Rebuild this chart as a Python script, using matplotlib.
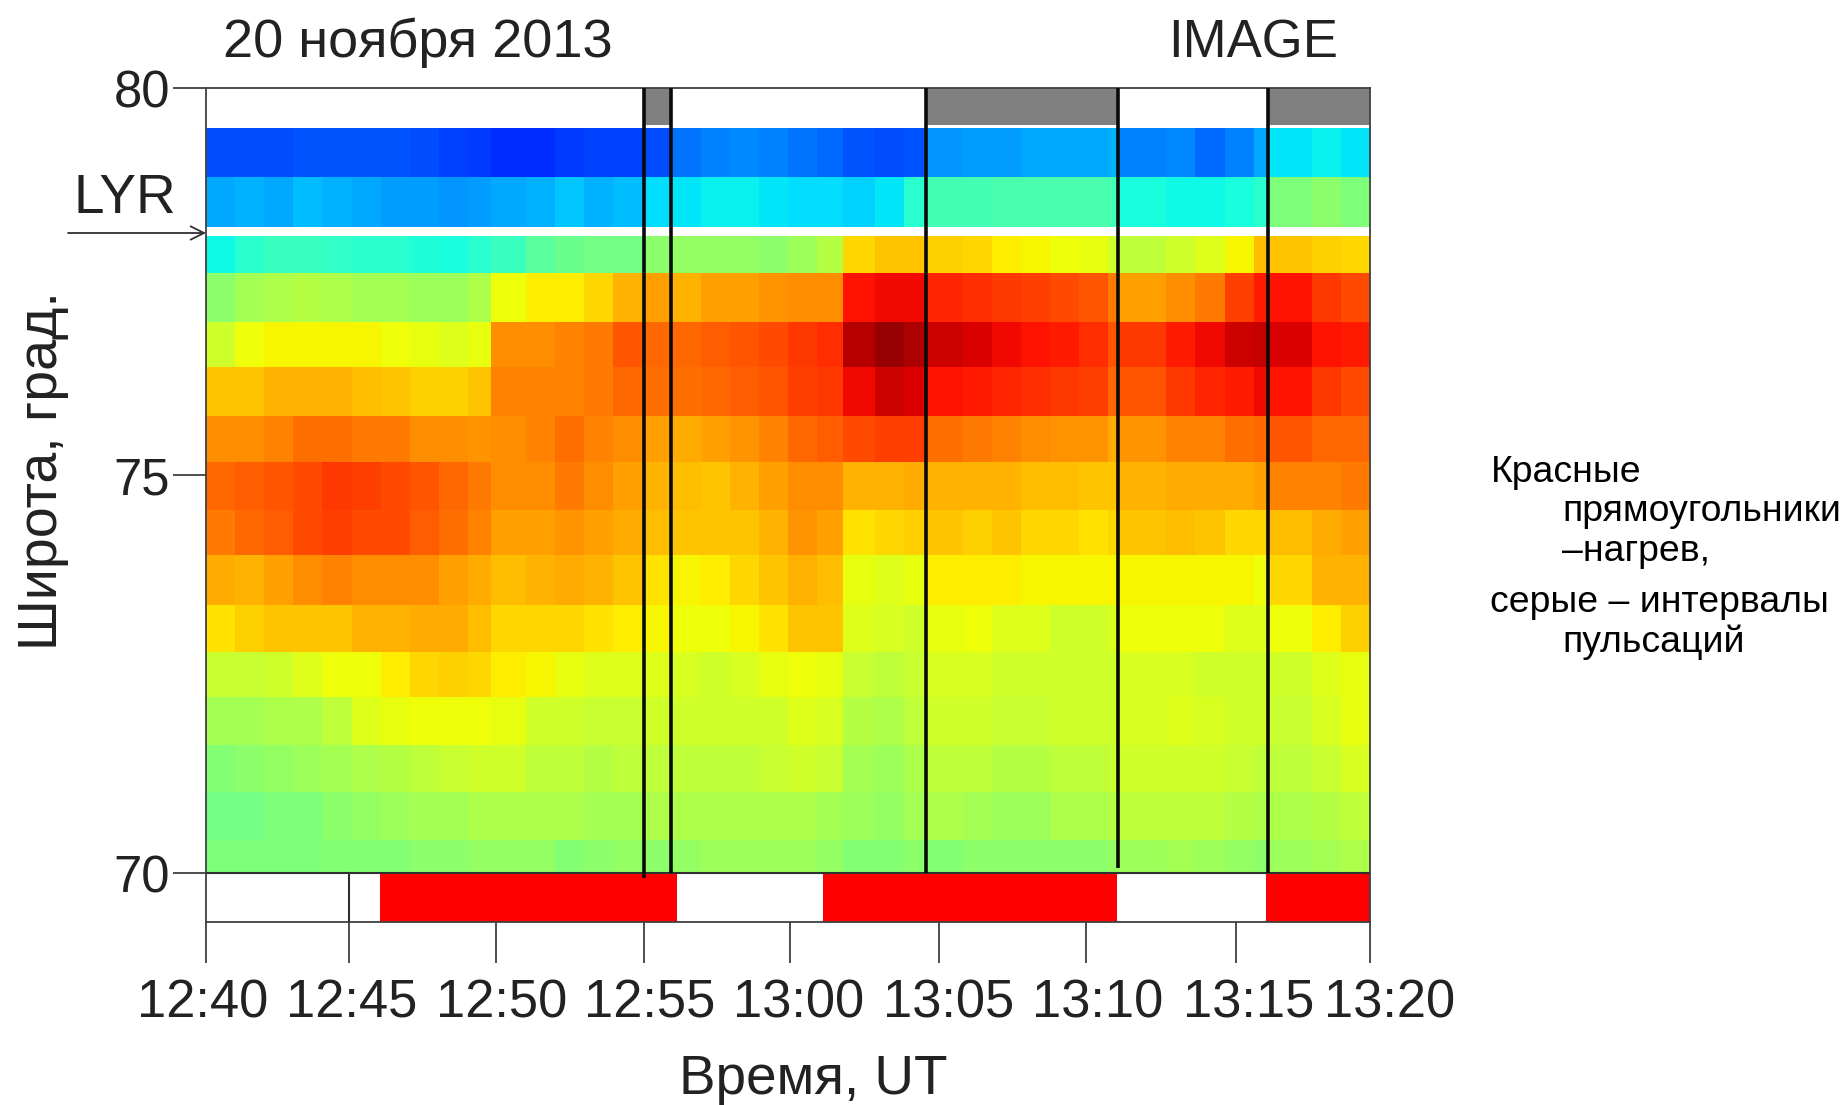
import numpy as np
import matplotlib
matplotlib.use('Agg')
import matplotlib.pyplot as plt

plt.rcParams['font.family'] = ['Liberation Sans', 'DejaVu Sans']

W, H = 1847, 1105

# time axis in minutes after 12:40, latitude in degrees
# columns are about a minute wide, a few edges sit where the picture steps
time_edges = [0, 1, 2, 3, 4, 5, 6, 7, 8, 9, 9.8, 11, 12, 13, 14, 15.06, 15.99,
              17, 18, 19, 20, 21, 21.9, 23, 24, 24.74, 26, 27, 28, 29, 30, 31,
              31.34, 33, 34, 35, 36, 36.48, 38, 39, 40]
lat_edges = [79.49, 78.87, 78.23, 77.64, 77.02, 76.45, 75.82, 75.24, 74.62,
             74.05, 73.41, 72.82, 72.24, 71.63, 71.03, 70.42, 70.0]

row1 = [.20, .20, .20, .21, .21, .21, .21, .20, .19, .18, .17, .17, .18, .19, .19, .20, .24, .25, .26, .25, .24, .23, .21, .20, .21, .27, .28, .28, .29, .29, .29, .30, .25, .26, .23, .25, .29, .35, .36, .35]
row2 = [.29, .30, .29, .31, .30, .29, .28, .28, .27, .28, .29, .30, .32, .30, .31, .34, .35, .36, .36, .35, .34, .34, .33, .35, .40, .43, .43, .44, .44, .44, .44, .43, .38, .37, .37, .38, .40, .50, .52, .50]
row3 = [.37, .40, .42, .42, .41, .40, .40, .39, .38, .40, .42, .46, .48, .49, .49, .52, .53, .53, .53, .52, .54, .57, .68, .70, .70, .69, .68, .66, .65, .64, .63, .60, .58, .60, .62, .65, .71, .70, .69, .68]
row4 = [.52, .55, .56, .57, .56, .55, .55, .54, .54, .56, .64, .66, .66, .68, .72, .74, .72, .74, .74, .75, .76, .76, .89, .90, .90, .87, .86, .85, .84, .83, .82, .78, .74, .76, .78, .84, .88, .89, .85, .83]
row5 = [.60, .64, .65, .65, .65, .65, .64, .63, .62, .63, .76, .76, .77, .78, .82, .80, .80, .81, .82, .83, .85, .86, .95, .98, .96, .93, .92, .90, .89, .88, .86, .82, .85, .88, .90, .93, .94, .92, .89, .88]
row6 = [.70, .70, .72, .72, .72, .71, .70, .69, .69, .70, .77, .77, .77, .78, .80, .79, .79, .80, .81, .82, .84, .85, .90, .93, .92, .89, .88, .87, .86, .85, .84, .80, .82, .85, .87, .88, .90, .89, .85, .83]
row7 = [.76, .76, .77, .79, .79, .78, .78, .76, .76, .75, .76, .77, .79, .77, .76, .74, .73, .74, .75, .77, .80, .81, .83, .84, .84, .79, .78, .77, .76, .75, .75, .73, .75, .77, .77, .79, .80, .82, .80, .80]
row8 = [.80, .81, .82, .83, .85, .84, .83, .82, .80, .78, .76, .76, .78, .76, .74, .72, .71, .70, .72, .74, .76, .76, .72, .72, .73, .72, .72, .72, .71, .71, .70, .70, .72, .73, .73, .73, .74, .77, .77, .78]
row9 = [.78, .80, .81, .83, .84, .83, .83, .81, .79, .77, .74, .74, .75, .74, .73, .71, .70, .70, .70, .72, .75, .74, .67, .68, .69, .70, .69, .70, .68, .68, .67, .68, .70, .71, .70, .68, .68, .71, .73, .74]
row10 = [.73, .72, .74, .76, .77, .76, .76, .76, .74, .73, .71, .72, .73, .72, .70, .67, .65, .66, .68, .70, .72, .71, .63, .62, .63, .66, .66, .66, .65, .65, .65, .65, .65, .65, .65, .65, .64, .68, .72, .72]
row11 = [.67, .69, .70, .70, .70, .72, .72, .73, .73, .71, .68, .68, .68, .67, .66, .65, .64, .64, .65, .67, .70, .70, .62, .61, .60, .63, .64, .62, .62, .60, .60, .61, .64, .64, .64, .62, .62, .64, .66, .69]
row12 = [.59, .59, .60, .62, .64, .64, .66, .68, .69, .68, .66, .65, .63, .62, .62, .62, .61, .60, .61, .63, .64, .63, .59, .58, .59, .61, .61, .60, .60, .60, .60, .60, .61, .61, .60, .60, .60, .60, .62, .63]
row13 = [.55, .55, .56, .56, .58, .62, .63, .64, .64, .64, .63, .60, .60, .59, .59, .60, .60, .60, .60, .60, .62, .61, .57, .56, .58, .60, .60, .59, .59, .60, .60, .60, .61, .62, .61, .60, .60, .59, .61, .63]
row14 = [.51, .52, .53, .54, .55, .56, .57, .58, .59, .60, .60, .58, .58, .57, .58, .58, .58, .58, .58, .59, .60, .59, .55, .54, .56, .58, .58, .57, .57, .58, .58, .59, .60, .60, .60, .59, .58, .58, .59, .61]
row15 = [.49, .49, .50, .50, .52, .53, .54, .55, .55, .56, .56, .56, .56, .55, .55, .56, .56, .56, .56, .56, .56, .55, .54, .53, .55, .56, .55, .54, .54, .56, .56, .57, .58, .58, .58, .57, .56, .56, .57, .58]
row16 = [.50, .50, .50, .50, .51, .51, .51, .52, .52, .53, .53, .53, .51, .52, .53, .52, .53, .54, .54, .54, .54, .53, .51, .51, .52, .51, .52, .52, .52, .52, .52, .53, .54, .55, .54, .53, .52, .54, .55, .56]

rows = [row1, row2, row3, row4, row5, row6, row7, row8, row9, row10, row11,
        row12, row13, row14, row15, row16]

# intervals in minutes after 12:40
pulse_start = [15.06, 24.74, 36.48]
pulse_end = [15.99, 31.34, 40.0]
heat_start = [5.99, 21.21, 36.44]
heat_end = [16.19, 31.30, 40.0]
line_times = [15.06, 15.99, 24.74, 31.34, 36.48]
line_bottoms = [69.94, 70.0, 70.0, 70.06, 70.0]

tick_times = [0, 4.9, 9.96, 15.06, 20.08, 25.18, 30.24, 35.38, 40]
tick_labels = ['12:40', '12:45', '12:50', '12:55', '13:00', '13:05', '13:10',
               '13:15', '13:20']
label_shift = [-3, 3, 5, 5, 7, 8, 10, 11, 17]


def fx(x):
    return x / W


def fy(y):
    return 1 - y / H


fig = plt.figure(figsize=(W / 100, H / 100), dpi=100)
ax = fig.add_axes([fx(206), fy(922), fx(1370 - 206), (922 - 88) / H])

ax.pcolormesh(time_edges, lat_edges, np.array(rows), cmap='jet', vmin=0, vmax=1,
              shading='flat', zorder=1)
ax.axhspan(78.11, 78.23, color='white', lw=0, zorder=2)

for a, b in zip(pulse_start, pulse_end):
    ax.fill_between([a, b], 79.53, 80, color='#808080', lw=0, zorder=2)
for a, b in zip(heat_start, heat_end):
    ax.fill_between([a, b], 69.376, 70, color='#fe0000', lw=0, zorder=2)

ax.axhline(70, color='#303030', lw=1.5, zorder=3)
ax.plot([tick_times[1], tick_times[1]], [69.376, 70], color='#303030', lw=1.5,
        zorder=3)
for t, b in zip(line_times, line_bottoms):
    ax.plot([t, t], [b, 80], color='#0a0a0a', lw=2.6, zorder=4,
            solid_capstyle='butt')

ax.set_xlim(0, 40)
ax.set_ylim(69.376, 80)
for s in ax.spines.values():
    s.set_color('#404040')
    s.set_linewidth(1.3)

ax.set_yticks([70, 75.07, 80])
ax.set_yticklabels(['70', '75', '80'])
ax.set_xticks(tick_times)
ax.set_xticklabels(tick_labels)
ax.tick_params(axis='y', length=24, width=1.3, color='#404040', pad=2,
               labelsize=36.5, labelcolor='#222222')
ax.tick_params(axis='x', length=29.5, width=1.3, color='#404040', pad=11,
               labelsize=37.8, labelcolor='#222222')

for lab, d in zip(ax.get_xticklabels(), label_shift):
    off = matplotlib.transforms.ScaledTranslation(d * 1.178 / 100, 0,
                                                  fig.dpi_scale_trans)
    lab.set_transform(lab.get_transform() + off)

txt = dict(color='#222222')
fig.text(fx(223), fy(57), '20 ноября 2013', ha='left', va='baseline', fontsize=39,
         **txt)
fig.text(fx(1168), fy(57), 'IMAGE', ha='left', va='baseline', fontsize=38, **txt)
fig.text(fx(74), fy(213), 'LYR', ha='left', va='baseline', fontsize=39.5, **txt)
fig.text(fx(813), fy(1094), 'Время, UT', ha='center', va='baseline', fontsize=39.5,
         **txt)
fig.text(fx(43), fy(471), 'Широта, град.', rotation=90, ha='center', va='center',
         fontsize=40, **txt)

ax.annotate('', xy=(fx(206), fy(233)), xytext=(fx(68), fy(233)),
            xycoords='figure fraction', textcoords='figure fraction',
            arrowprops=dict(arrowstyle='->', color='#303030', lw=1.3,
                            mutation_scale=24, shrinkA=0, shrinkB=0))

note_x = [1491, 1562, 1562, 1490, 1562]
note_y = [482, 521, 561, 612, 652]
note_lines = ['Красные', 'прямоугольники', '–нагрев,', 'серые – интервалы',
              'пульсаций']
for x, y, s in zip(note_x, note_y, note_lines):
    fig.text(fx(x), fy(y), s, ha='left', va='baseline', color='black',
             fontsize=26.9)

fig.savefig('out.png', dpi=100)
